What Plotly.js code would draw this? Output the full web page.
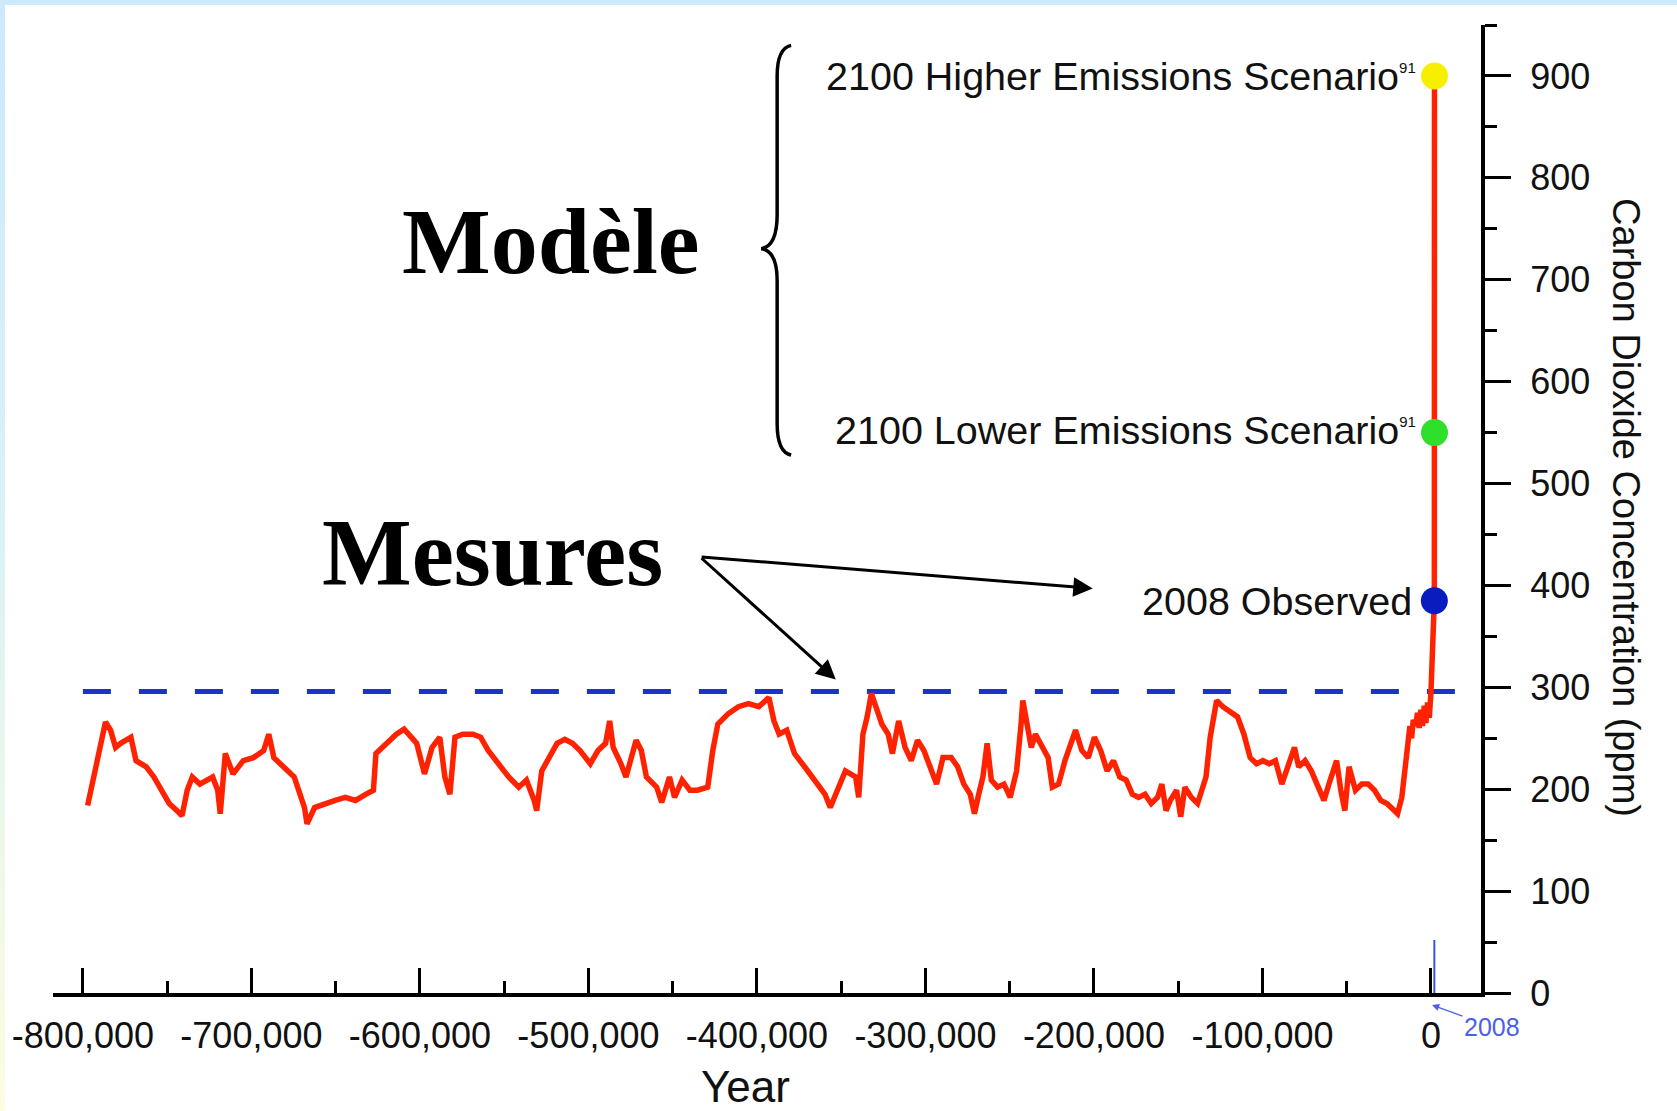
<!DOCTYPE html>
<html>
<head>
<meta charset="utf-8">
<script src="https://cdn.plot.ly/plotly-3.0.1.min.js"></script>
<style>
  html, body { margin: 0; padding: 0; }
  body {
    width: 1677px; height: 1111px; overflow: hidden; position: relative;
    background: linear-gradient(to bottom, #cdeafc 0%, #d9f1f6 45%, #fdfde0 100%);
  }
  #plot { position: absolute; left: 5px; top: 5px; width: 1672px; height: 1106px; background: #fff; }
</style>
</head>
<body>
<div id="plot"></div>
<script>
// ---- data ----
const iceYears = [
  -797200,-786600,-783600,-780600,-777600,-771500,-768500,-762400,-757900,-753300,
  -748800,-744300,-741200,-738100,-735100,-730600,-726000,-723000,-720000,-718500,
  -715500,-710900,-704800,-698800,-692700,-689700,-686700,-680600,-674600,-668500,
  -667000,-662500,-656400,-650300,-644300,-638200,-632200,-627600,-626100,-620100,
  -614000,-609400,-604900,-601900,-597300,-592800,-588200,-585200,-582200,-579200,
  -574600,-568500,-564000,-559500,-553400,-547300,-541300,-536800,-532200,-530700,
  -527700,-523100,-518600,-514000,-509500,-505000,-498900,-494300,-489800,-487400,
  -485300,-480700,-477700,-471700,-468600,-465600,-459500,-456500,-451900,-448900,
  -444400,-439800,-435300,-429200,-426200,-423200,-417100,-411000,-405000,-398900,
  -392900,-389900,-386800,-382300,-377700,-371700,-365600,-359600,-356500,-352000,
  -347500,-341400,-339600,-337100,-334600,-332100,-329600,-325900,-322100,-319600,
  -315900,-312100,-308400,-304700,-300900,-297100,-293400,-289600,-284700,-280900,
  -277200,-273400,-270900,-268400,-265900,-263400,-260900,-257200,-253400,-249700,
  -245900,-243400,-242200,-239700,-237200,-234700,-230900,-227200,-224700,-221000,
  -217200,-213400,-210900,-207200,-203400,-199700,-196000,-192200,-188400,-184700,
  -180900,-177200,-173500,-169700,-166000,-162200,-159700,-157200,-154700,-151000,
  -148500,-146000,-142200,-138500,-136000,-133500,-131000,-127200,-123500,-119700,
  -114800,-111000,-107300,-103500,-99700,-96000,-92300,-88500,-84800,-81000,
  -78500,-74700,-71000,-67300,-63500,-59800,-56000,-53500,-51100,-48600,
  -44800,-41000,-37300,-33500,-29800,-26100,-21100,-19800,-17300,-15400,
  -14000,-12500,-11500,-10500,-9000,-8000,-7000,-6000,-5000,-4000,
  -3000,-2000,-1000,-300,0
];
const iceCO2 = [
  184,266,258,241,245,251,228,222,212,199,
  186,179,174,199,212,205,210,212,199,176,
  235,215,228,231,238,254,231,222,212,182,
  166,182,186,189,192,189,195,199,235,245,
  254,259,251,245,215,241,251,212,195,251,
  254,254,251,238,225,212,202,209,189,179,
  218,231,245,249,245,238,225,238,245,267,
  241,225,212,248,238,212,202,187,212,192,
  209,199,199,202,238,264,274,281,284,281,
  290,267,254,258,235,222,209,195,182,199,
  218,212,192,254,271,294,281,264,254,235,
  267,241,228,248,238,222,205,231,231,222,
  205,195,176,195,212,245,209,202,205,192,
  218,261,287,264,241,254,241,231,202,205,
  228,248,258,238,231,251,238,218,228,212,
  209,195,192,195,186,192,205,179,189,199,
  173,202,192,186,199,212,251,287,281,277,
  271,254,231,225,228,225,228,205,225,241,
  222,228,218,202,189,209,228,199,179,222,
  199,205,205,199,189,186,179,176,192,225,
  240,262,250,268,262,275,260,278,262,282,
  265,285,270,290,295
];
// observed + projected
const modernYears = [0, 2008, 2100, 2100];
const modernCO2   = [295, 385, 550, 900];

const pointYears  = [2100, 2100, 2008];
const pointCO2    = [900, 550, 385];
const pointLabels = ['2100 Higher Emissions Scenario', '2100 Lower Emissions Scenario', '2008 Observed'];
const pointNotes  = ['91', '91', ''];

const preIndustrialMax = 296;
const refLineYears = [-800000, 29700];

const xTickVals = [-800000,-700000,-600000,-500000,-400000,-300000,-200000,-100000,0];
const xTickText = ['-800,000','-700,000','-600,000','-500,000','-400,000','-300,000','-200,000','-100,000','0'];
const yTickVals = [0,100,200,300,400,500,600,700,800,900];
const yTickText = yTickVals.map(String);

// ---- chart ----
const sans = 'Liberation Sans, Arial, sans-serif';
const serif = 'Liberation Serif, Times New Roman, serif';

const traces = [
  {
    x: refLineYears, y: refLineYears.map(() => preIndustrialMax),
    mode: 'lines', line: {color: '#1e32c8', width: 5, dash: '28px,28px'},
    hoverinfo: 'skip'
  },
  {
    x: iceYears.concat(modernYears), y: iceCO2.concat(modernCO2),
    mode: 'lines', line: {color: '#ff2200', width: 5.5},
    hoverinfo: 'skip'
  },
  {
    x: pointYears, y: pointCO2, mode: 'markers',
    marker: {size: 27, color: ['#f6f000', '#2ee02a', '#0a1cc0'], line: {width: 0}},
    cliponaxis: false, hoverinfo: 'skip'
  }
];

const annotations = [];
pointLabels.forEach((lab, i) => {
  const note = pointNotes[i] ? '<sup><span style="font-size:15px">' + pointNotes[i] + '</span></sup>' : '';
  annotations.push({
    x: pointYears[i], y: pointCO2[i], xref: 'x', yref: 'y',
    text: lab + note, showarrow: false, xanchor: 'right', yanchor: 'middle',
    xshift: i === 2 ? -20 : -16, yshift: i === 1 ? 3 : 0,
    font: {family: sans, size: 39.5, color: '#111'}
  });
});
annotations.push(
  {x: 0.3487, y: 0.7773, xref: 'paper', yref: 'paper', text: '<b>Modèle</b>', showarrow: false,
   xanchor: 'center', yanchor: 'middle', font: {family: serif, size: 94, color: '#000'}},
  {x: 0.3081, y: 0.4545, xref: 'paper', yref: 'paper', text: '<b>Mesures</b>', showarrow: false,
   xanchor: 'center', yanchor: 'middle', font: {family: serif, size: 95, color: '#000'}},
  {x: -200700, y: 397, xref: 'x', yref: 'y', ax: -433700, ay: 428, axref: 'x', ayref: 'y',
   text: '', showarrow: true, arrowhead: 2, arrowsize: 1.3, arrowwidth: 3, arrowcolor: '#000', standoff: 0},
  {x: -353200, y: 307.6, xref: 'x', yref: 'y', ax: -433700, ay: 428, axref: 'x', ayref: 'y',
   text: '', showarrow: true, arrowhead: 2, arrowsize: 1.3, arrowwidth: 3, arrowcolor: '#000', standoff: 0},
  {x: 0.4846, y: -0.097, xref: 'paper', yref: 'paper', text: 'Year', showarrow: false,
   xanchor: 'center', yanchor: 'middle', font: {family: sans, size: 44, color: '#111'}},
  {x: 1.1015, y: 0.501, xref: 'paper', yref: 'paper', text: 'Carbon Dioxide Concentration (ppm)',
   showarrow: false, textangle: 90, xanchor: 'center', yanchor: 'middle',
   font: {family: sans, size: 38, color: '#111'}},
  {x: 0.9657, y: -0.0124, xref: 'paper', yref: 'paper', text: '2008', showarrow: true,
   ax: 60, ay: 22, arrowhead: 2, arrowsize: 1.2, arrowwidth: 1.2, arrowcolor: '#4a60e8',
   font: {family: sans, size: 25, color: '#4a60e8'}}
);

const layout = {
  width: 1672, height: 1106,
  margin: {l: 48, r: 196, t: 20, b: 118},
  paper_bgcolor: '#fff', plot_bgcolor: '#fff',
  showlegend: false,
  xaxis: {
    range: [-817750, 29700], showgrid: false, zeroline: false,
    showline: true, linecolor: '#000', linewidth: 4,
    ticks: 'inside', ticklen: 25, tickwidth: 3, tickcolor: '#000',
    tickmode: 'array', tickvals: xTickVals, ticktext: xTickText,
    tickfont: {family: sans, size: 36, color: '#111'},
    ticklabelstandoff: 8,
    minor: {dtick: 50000, tick0: 0, ticks: 'inside', ticklen: 12, tickwidth: 3, tickcolor: '#000'},
    fixedrange: true
  },
  yaxis: {
    range: [0, 950], side: 'right', showgrid: false, zeroline: false,
    showline: true, linecolor: '#000', linewidth: 4,
    ticks: 'outside', ticklen: 26, tickwidth: 3, tickcolor: '#000',
    tickmode: 'array', tickvals: yTickVals, ticktext: yTickText,
    tickfont: {family: sans, size: 36, color: '#111'},
    ticklabelstandoff: 12,
    minor: {dtick: 50, tick0: 0, ticks: 'outside', ticklen: 12, tickwidth: 3, tickcolor: '#000'},
    fixedrange: true
  },
  shapes: [
    {type: 'path', xref: 'x', yref: 'y',
     path: 'M -379700,930 C -385500,928 -388000,918 -388000,900 L -388000,764 ' +
           'C -388000,742 -391500,732 -397400,730.5 C -391500,729 -388000,719 -388000,699 ' +
           'L -388000,559 C -388000,541 -385500,530 -379700,528',
     line: {color: '#000', width: 3.5}},
    {type: 'line', xref: 'x', yref: 'y', x0: 2008, x1: 2008, y0: 0, y1: 52,
     line: {color: '#3a55e0', width: 2}, layer: 'above'}
  ],
  annotations: annotations
};

Plotly.newPlot('plot', traces, layout, {displayModeBar: false, staticPlot: true});
</script>
</body>
</html>
